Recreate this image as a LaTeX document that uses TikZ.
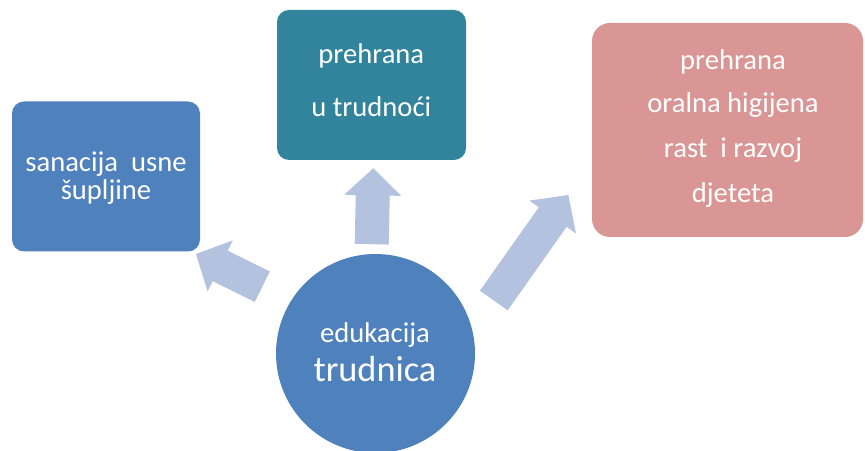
\documentclass[tikz,border=0pt]{standalone}
\usepackage{fontspec}
\setmainfont{Carlito}
\usetikzlibrary{calc}
\definecolor{boxblue}{HTML}{4F81BD}
\definecolor{boxteal}{HTML}{31849B}
\definecolor{boxpink}{HTML}{D99694}
\definecolor{arrowfill}{HTML}{B3C2DE}
\tikzset{
  box/.style={rectangle, draw=none, inner sep=0pt},
  txt/.style={text=white, anchor=base, inner sep=0pt, font=\fontsize{28.6}{30}\selectfont},
  bigtxt/.style={text=white, anchor=base, inner sep=0pt, font=\fontsize{36.3}{38}\selectfont},
}
\newcommand\blockarr[2]{%
  \coordinate (#2-h) at ($(#2)!27pt!(#1)$);
  \fill[arrowfill] ($(#1)!17pt!90:(#2)$) -- ($(#2-h)!17pt!-90:(#1)$)
    -- ($(#2-h)!28.5pt!-90:(#1)$) -- (#2) -- ($(#2-h)!28.5pt!90:(#1)$)
    -- ($(#2-h)!17pt!90:(#1)$) -- ($(#1)!17pt!-90:(#2)$) -- cycle;}
\begin{document}
\begin{tikzpicture}[x=1pt,y=1pt]
\useasboundingbox (0,0) rectangle (865,450);
\clip (0,0) rectangle (865,450);
% boxes
\node[box, fill=boxblue, rounded corners=12pt, minimum width=188pt, minimum height=150pt] (left) at (106,273.5) {};
\node[box, fill=boxteal, rounded corners=12pt, minimum width=189pt, minimum height=150pt] (mid) at (371.5,365) {};
\node[box, fill=boxpink, rounded corners=18pt, minimum width=271pt, minimum height=214pt] (right) at (727.5,320) {};
\node[circle, fill=boxblue, inner sep=0pt, minimum size=199pt] (edu) at (375.5,96.5) {};
% texts
\node[txt] (l1) at (106,278.3) {sanacija\ \ usne};
\node[txt] (l2) at (106,250) {šupljine};
\node[txt] (m1) at (371.3,386) {prehrana};
\node[txt] (m2) at (371.3,333) {u trudnoći};
\node[txt] (r1) at (733,380) {prehrana};
\node[txt] (r2) at (733,337) {oralna higijena};
\node[txt] (r3) at (733,292) {rast\ \ i razvoj};
\node[txt] (r4) at (733,247) {djeteta};
\node[txt] (c1) at (375,107) {edukacija};
\node[bigtxt] (c2) at (375,68) {trudnica};
% arrows
\coordinate (la0) at (262.3,163.3);
\coordinate (la1) at (196,196);
\coordinate (ma0) at (371.7,205.8);
\coordinate (ma1) at (373.3,281.7);
\coordinate (ra0) at (493.8,149.5);
\coordinate (ra1) at (568.3,255);
\blockarr{la0}{la1}
\blockarr{ma0}{ma1}
\blockarr{ra0}{ra1}
\end{tikzpicture}
\end{document}
